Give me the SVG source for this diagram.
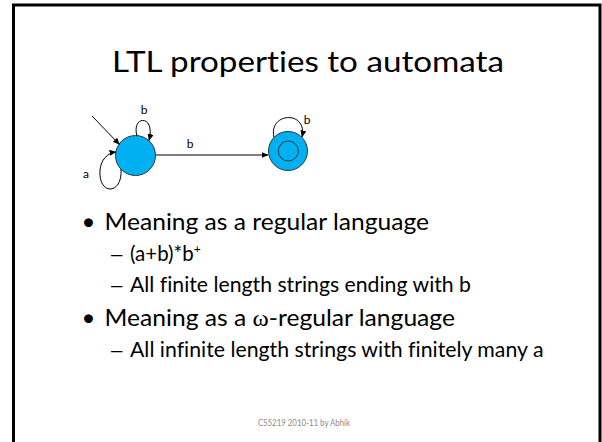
<svg xmlns="http://www.w3.org/2000/svg" width="602" height="442" viewBox="0 0 602 442">
  <style>
    text { font-variant-ligatures: none; }
    .frame { fill: #ffffff; stroke: #000000; stroke-width: 3; }
    .state { fill: #00B0F0; stroke: #2a3a40; stroke-width: 1; }
    .inner { fill: none; stroke: #2a3a40; stroke-width: 1; }
    .edge { fill: none; stroke: #000000; stroke-width: 1; marker-end: url(#arrow); }
    .lbl { font-family: Lato, "Liberation Sans", sans-serif; font-size: 12px; fill: #000000; text-anchor: middle; }
    .title { font-family: Lato, "Liberation Sans", sans-serif; font-size: 29px; fill: #000000; }
    .l1 { font-family: Lato, "Liberation Sans", sans-serif; font-size: 24px; fill: #000000; }
    .l2 { font-family: Lato, "Liberation Sans", sans-serif; font-size: 20.5px; fill: #000000; }
    .dash { font-family: "Liberation Sans", sans-serif; font-size: 20.5px; fill: #000000; }
    .omega { font-family: "Liberation Serif", serif; }
    .foot { font-family: Lato, "Liberation Sans", sans-serif; font-size: 9.5px; fill: #8c8c8c; text-anchor: middle; }
  </style>
  <defs>
    <marker id="arrow" markerWidth="7" markerHeight="6" refX="6.5" refY="3" orient="auto" markerUnits="userSpaceOnUse">
      <path d="M0,0 L7,3 L0,6 Z" fill="#000000"/>
    </marker>
  </defs>

  <rect class="frame" x="13.5" y="5" width="586.5" height="500"/>

  <text class="title" x="112" y="72" textLength="392" lengthAdjust="spacingAndGlyphs">LTL properties to automata</text>

  <!-- automaton states -->
  <g id="q0">
    <circle class="state" cx="135.5" cy="155.5" r="20"/>
  </g>
  <g id="q1">
    <circle class="state" cx="288" cy="151" r="19.5"/>
    <circle class="inner" cx="288.3" cy="151" r="10"/>
  </g>

  <!-- transitions -->
  <g id="edges">
    <path class="edge" d="M92,116 L119.5,144.5"/>
    <path class="edge" d="M137,136 C131,115 156,114 149,140.5"/>
    <path class="edge" d="M121,169 C123,195 98,196 100,170 C101,160 107,153 116,152"/>
    <path class="edge" d="M155.5,155 L268,155"/>
    <path class="edge" d="M274,137.5 C268,112 308,110 302,137"/>
    <text class="lbl" x="144" y="114">b</text>
    <text class="lbl" x="86" y="178">a</text>
    <text class="lbl" x="190" y="148">b</text>
    <text class="lbl" x="307" y="124">b</text>
  </g>

  <!-- bullet list -->
  <text class="l1" x="81.5" y="230">•</text>
  <text class="l1" x="104.5" y="230" textLength="324.5" lengthAdjust="spacingAndGlyphs">Meaning as a regular language</text>

  <text class="dash" x="111" y="261">–</text>
  <text class="l2" x="130" y="261">(a+b)*b<tspan font-size="12" dy="-8">+</tspan></text>

  <text class="dash" x="111" y="291.5">–</text>
  <text class="l2" x="130" y="291.5" textLength="341" lengthAdjust="spacingAndGlyphs">All finite length strings ending with b</text>

  <text class="l1" x="81.5" y="325.5">•</text>
  <text class="l1" x="104.5" y="325.5" textLength="350.5" lengthAdjust="spacingAndGlyphs">Meaning as a <tspan class="omega">ω</tspan>-regular language</text>

  <text class="dash" x="111" y="356.5">–</text>
  <text class="l2" x="130" y="356.5" textLength="413.5" lengthAdjust="spacingAndGlyphs">All infinite length strings with finitely many a</text>

  <text class="foot" x="304" y="426" textLength="92" lengthAdjust="spacingAndGlyphs">CS5219 2010-11 by Abhik</text>
</svg>
